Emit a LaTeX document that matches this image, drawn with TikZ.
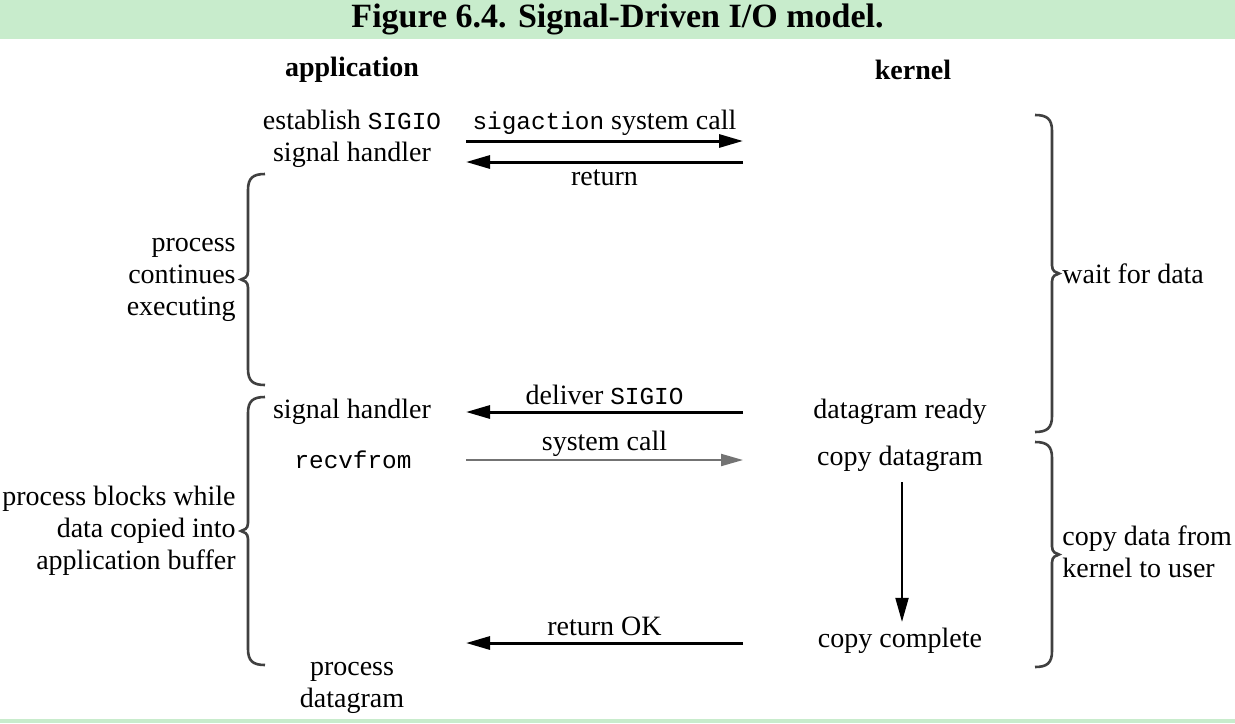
\documentclass[tikz,border=0pt]{standalone}
\usepackage{fontspec}
\setmainfont{Liberation Serif}
\setmonofont[Scale=0.87]{Liberation Mono}
\usetikzlibrary{arrows.meta, positioning, calc}

\definecolor{bandgreen}{RGB}{200,236,204}

% curly brace: #1 = x of the curled ends, #2 = top, #3 = bottom, #4 = +1 (tip right) or -1 (tip left)
\newcommand{\iobrace}[4]{%
  \draw[bracestyle] (#1,#2) .. controls ({#1+#4*12},#2) and ({#1+#4*17},{#2+4}) .. ({#1+#4*17},{#2+16})
    -- ({#1+#4*17},{(#2+#3)/2-8}) .. controls ({#1+#4*17},{(#2+#3)/2-2}) and ({#1+#4*21},{(#2+#3)/2-1}) .. ({#1+#4*24},{(#2+#3)/2})
    .. controls ({#1+#4*21},{(#2+#3)/2+1}) and ({#1+#4*17},{(#2+#3)/2+2}) .. ({#1+#4*17},{(#2+#3)/2+8})
    -- ({#1+#4*17},{#3-16}) .. controls ({#1+#4*17},{#3-4}) and ({#1+#4*12},#3) .. (#1,#3);%
}

\begin{document}
\begin{tikzpicture}[x=0.5pt, y=-0.5pt,
    txt/.style={font=\fontsize{14}{16}\selectfont, align=center, inner sep=1pt},
    head/.style={font=\fontsize{14}{16}\selectfont\bfseries, inner sep=1pt},
    title/.style={font=\fontsize{17}{20}\selectfont\bfseries, inner sep=0pt},
    lbl/.style={font=\fontsize{14}{16}\selectfont, inner sep=1pt},
    side/.style={font=\fontsize{14}{16}\selectfont, inner sep=1pt},
    arrow/.style={-{Triangle[length=12pt, width=6.5pt]}, line width=1.5pt},
    thinarrow/.style={-{Triangle[length=11pt, width=6pt]}, line width=1pt, color=black!55},
    copyarrow/.style={-{Triangle[length=12pt, width=6.5pt]}, line width=1pt},
    bracestyle/.style={line width=1.3pt, black!75}
]
    \useasboundingbox (0,0) rectangle (1235,723);
    \fill[white] (0,0) rectangle (1235,723);

    % Columns of the message arrows
    \def\xa{466}
    \def\xb{743}

    % Title band
    \fill[bandgreen] (0,0) rectangle (1235,39);
    \fill[bandgreen] (0,719) rectangle (1235,723);
    \node[title] (title) at (617.5,19) {Figure 6.4. Signal-Driven I/O model.};

    % Column headings
    \node[head] (app) at (352,70) {application};
    \node[head] (kern) at (913,70) {kernel};

    % Application side
    \node[txt] (estab) at (352,139) {establish \texttt{SIGIO}\\signal handler};
    \node[txt] (sighand) at (352,412) {signal handler};
    \node[txt] (recv) at (353,460) {\texttt{recvfrom}};
    \node[txt] (procdg) at (352,688) {process\\datagram};

    % Kernel side
    \node[txt] (dgready) at (900,412) {datagram ready};
    \node[txt] (cpyd) at (900,459) {copy datagram};
    \node[txt] (cpyc) at (900,641) {copy complete};

    % Messages
    \coordinate (m1a) at (\xa,141);
    \coordinate (m1b) at (\xb,141);
    \draw[arrow] (m1a) -- node[lbl, above=1pt] (m1lbl) {\texttt{sigaction} system call} (m1b);

    \coordinate (m2a) at (\xb,162);
    \coordinate (m2b) at (\xa,162);
    \draw[arrow] (m2a) -- node[lbl, below=2pt] (m2lbl) {return} (m2b);

    \coordinate (m3a) at (\xb,412);
    \coordinate (m3b) at (\xa,412);
    \draw[arrow] (m3a) -- node[lbl, above=2pt] (m3lbl) {deliver \texttt{SIGIO}} (m3b);

    \coordinate (m4a) at (\xa,460);
    \coordinate (m4b) at (\xb,460);
    \draw[thinarrow] (m4a) -- node[lbl, above=0pt, text=black] (m4lbl) {system call} (m4b);

    \coordinate (m5a) at (\xb,643);
    \coordinate (m5b) at (\xa,643);
    \draw[arrow] (m5a) -- node[lbl, above=2pt] (m5lbl) {return OK} (m5b);

    % Copy in the kernel
    \draw[copyarrow, shorten <=4pt, shorten >=2pt] ([xshift=1pt]cpyd.south) -- ([xshift=1pt]cpyc.north);

    % Braces
    \iobrace{265}{174}{385}{-1}
    \node[side, align=right, anchor=east] (contlbl) at (238,279.5) {process\\continues\\executing};
    \iobrace{265}{397}{665}{-1}
    \node[side, align=right, anchor=east] (blocklbl) at (238,531) {process blocks while\\data copied into\\application buffer};
    \iobrace{1035}{115}{432}{1}
    \node[side, align=left, anchor=west] (waitlbl) at (1060,273.5) {wait for data};
    \iobrace{1035}{442}{667}{1}
    \node[side, align=left, anchor=west] (copylbl) at (1060,552) {copy data from\\kernel to user};
\end{tikzpicture}
\end{document}
